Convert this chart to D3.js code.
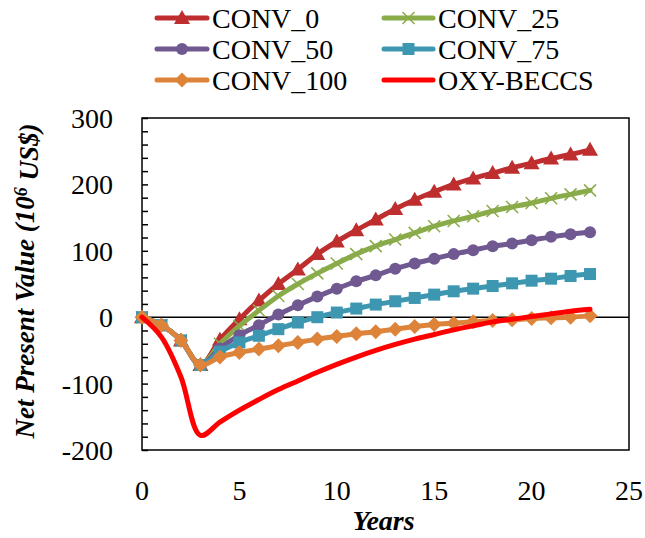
<!DOCTYPE html>
<html>
<head>
<meta charset="utf-8">
<script src="https://cdn.jsdelivr.net/npm/d3@7"></script>
<style>
  @font-face { font-family: "ChartSerif"; src: local("Liberation Serif"), local("LiberationSerif"), local("Times New Roman"); font-weight: normal; font-style: normal; }
  @font-face { font-family: "ChartSerif"; src: local("Liberation Serif Bold Italic"), local("LiberationSerif-BoldItalic"); font-weight: bold; font-style: italic; }
</style>
</head>
<body style="margin:0">
<div id="chart"></div>
<script>
// Data (NPV in 10^6 US$ per year)
const years = [0, 1, 2, 3, 4, 5, 6, 7, 8, 9, 10, 11, 12, 13, 14, 15, 16, 17, 18, 19, 20, 21, 22, 23];
const conv0 = [0, -12, -35, -72, -34, -3, 25, 50, 72, 95, 114, 131, 147, 163, 177, 189, 200, 209, 217, 225, 232, 239, 245, 252];
const conv25 = [0, -12, -35, -72, -40, -13, 10, 32, 50, 66, 81, 95, 107, 117, 127, 137, 145, 152, 160, 166, 172, 179, 185, 191];
const conv50 = [0, -12, -35, -72, -47, -27, -12, 4, 18, 31, 43, 54, 63, 73, 81, 88, 95, 101, 107, 111, 116, 121, 125, 128];
const conv75 = [0, -12, -35, -72, -52, -38, -28, -18, -8, 0, 7, 13, 19, 24, 29, 34, 39, 43, 47, 51, 55, 58, 62, 65];
const conv100 = [0, -12, -35, -72, -60, -53, -48, -43, -38, -33, -29, -25, -22, -18, -14, -11, -9, -7, -5, -4, -2, -1, 0, 2];
const oxyBeccs = [0, -30, -90, -178, -158, -140, -124, -109, -96, -83, -71, -60, -50, -41, -33, -26, -19, -13, -7, -3, 1, 5, 9, 12];

const xTicks = [0, 5, 10, 15, 20, 25];
const yTicks = [-200, -100, 0, 100, 200, 300];

const series = [
  {name: "CONV_0", values: conv0, color: "#be2e2e", marker: "triangle"},
  {name: "CONV_25", values: conv25, color: "#8aab4a", marker: "x"},
  {name: "CONV_50", values: conv50, color: "#705891", marker: "circle"},
  {name: "CONV_75", values: conv75, color: "#3e97b1", marker: "square"},
  {name: "CONV_100", values: conv100, color: "#dd843a", marker: "diamond"},
  {name: "OXY-BECCS", values: oxyBeccs, color: "#ff0000", marker: null}
];

const width = 645, height = 538;
const plot = {left: 142, right: 629, top: 118, bottom: 450};
const fontStack = "\"Times New Roman\", \"Liberation Serif\", ChartSerif, Tinos";

const svg = d3.select("#chart").append("svg")
  .attr("width", width)
  .attr("height", height);

svg.append("rect").attr("width", width).attr("height", height).attr("fill", "#fff");

const x = d3.scaleLinear().domain([0, 25]).range([plot.left, plot.right]);
const y = d3.scaleLinear().domain([-200, 300]).range([plot.bottom, plot.top]);

// Frame around the plot area
svg.append("rect")
  .attr("x", plot.left)
  .attr("y", plot.top)
  .attr("width", plot.right - plot.left)
  .attr("height", plot.bottom - plot.top)
  .attr("fill", "none")
  .attr("stroke", "#000")
  .attr("stroke-width", 1.5);

// Y axis with inside ticks every 20
const yAxis = svg.append("g")
  .attr("transform", `translate(${plot.left},0)`)
  .call(d3.axisRight(y).tickValues(d3.range(-200, 301, 20)).tickSize(6).tickFormat(""));
yAxis.select(".domain").remove();
yAxis.selectAll("line").attr("stroke", "#000").attr("stroke-width", 1.5);

// Horizontal axis at zero
svg.append("line")
  .attr("x1", plot.left).attr("x2", plot.right)
  .attr("y1", y(0)).attr("y2", y(0))
  .attr("stroke", "#000")
  .attr("stroke-width", 1.5);

function drawMarker(g, type, color, cx, cy) {
  if (type === "triangle") {
    g.append("path")
      .attr("d", `M${cx},${cy - 8}L${cx + 8},${cy + 6}L${cx - 8},${cy + 6}Z`)
      .attr("fill", color);
  } else if (type === "circle") {
    g.append("circle").attr("cx", cx).attr("cy", cy).attr("r", 6).attr("fill", color);
  } else if (type === "square") {
    g.append("rect").attr("x", cx - 6).attr("y", cy - 6).attr("width", 12).attr("height", 12).attr("fill", color);
  } else if (type === "diamond") {
    g.append("path")
      .attr("d", `M${cx},${cy - 7.5}L${cx + 7.5},${cy}L${cx},${cy + 7.5}L${cx - 7.5},${cy}Z`)
      .attr("fill", color);
  } else if (type === "x") {
    g.append("path")
      .attr("d", `M${cx - 6},${cy - 6}L${cx + 6},${cy + 6}M${cx + 6},${cy - 6}L${cx - 6},${cy + 6}`)
      .attr("stroke", color)
      .attr("stroke-width", 1.5);
  }
}

const line = d3.line()
  .x((d, i) => x(years[i]))
  .y(d => y(d))
  .curve(d3.curveCatmullRom.alpha(0.5));

// Series lines with markers
series.forEach(s => {
  const g = svg.append("g").attr("class", "series");
  g.append("path")
    .attr("d", line(s.values))
    .attr("fill", "none")
    .attr("stroke", s.color)
    .attr("stroke-width", 5)
    .attr("stroke-linejoin", "round")
    .attr("stroke-linecap", "round");
  if (s.marker) {
    s.values.forEach((v, i) => drawMarker(g, s.marker, s.color, x(years[i]), y(v)));
  }
});

// Legend lines and markers: two columns, three rows
const legendRows = [18, 49, 80];
const legendCols = [{x1: 157, x2: 207}, {x1: 384, x2: 433}];
series.forEach((s, i) => {
  const col = legendCols[i % 2];
  const cy = legendRows[Math.floor(i / 2)];
  const g = svg.append("g").attr("class", "legend-item");
  g.append("line")
    .attr("x1", col.x1).attr("x2", col.x2)
    .attr("y1", cy).attr("y2", cy)
    .attr("stroke", s.color)
    .attr("stroke-width", 5)
    .attr("stroke-linecap", "round");
  if (s.marker) drawMarker(g, s.marker, s.color, (col.x1 + col.x2) / 2, cy);
});

// All text goes straight onto the svg
svg.selectAll("text.legend")
  .data(series)
  .enter().append("text")
  .attr("class", "legend")
  .attr("x", (d, i) => legendCols[i % 2].x2 + 5)
  .attr("y", (d, i) => legendRows[Math.floor(i / 2)] + 10)
  .attr("font-size", "28px")
  .style("font-family", fontStack)
  .text(d => d.name);

svg.selectAll("text.ytick")
  .data(yTicks)
  .enter().append("text")
  .attr("class", "ytick")
  .attr("x", plot.left - 29)
  .attr("y", d => y(d) + 10)
  .attr("text-anchor", "end")
  .attr("font-size", "28px")
  .style("font-family", fontStack)
  .text(d => d);

svg.selectAll("text.xtick")
  .data(xTicks)
  .enter().append("text")
  .attr("class", "xtick")
  .attr("x", d => x(d))
  .attr("y", 500)
  .attr("text-anchor", "middle")
  .attr("font-size", "28px")
  .style("font-family", fontStack)
  .text(d => d);

svg.append("text")
  .attr("x", x(12.4))
  .attr("y", 530)
  .attr("text-anchor", "middle")
  .attr("font-size", "28px")
  .style("font-family", fontStack)
  .style("font-weight", "bold")
  .style("font-style", "italic")
  .text("Years");

const yTitle = svg.append("text")
  .attr("transform", `translate(34,281) rotate(-90)`)
  .attr("text-anchor", "middle")
  .attr("font-size", "27px")
  .style("font-family", fontStack)
  .style("font-weight", "bold")
  .style("font-style", "italic");
yTitle.append("tspan").text("Net Present Value (10");
yTitle.append("tspan").attr("dy", "-0.4em").attr("font-size", "18px").text("6");
yTitle.append("tspan").attr("dy", "0.4em").text(" US$)");
</script>
</body>
</html>
